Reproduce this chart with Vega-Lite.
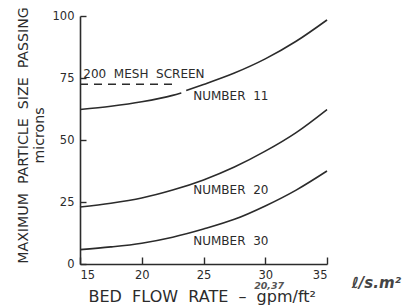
{
  "$schema": "https://vega.github.io/schema/vega-lite/v6.json",
  "width": 247,
  "height": 248,
  "autosize": {"type": "none"},
  "padding": {"left": 80, "top": 16, "right": 77, "bottom": 42},
  "background": "white",
  "config": {
    "view": {"stroke": null},
    "font": "DejaVu Sans",
    "axis": {
      "domainColor": "#2b2b2b",
      "domainWidth": 1.6,
      "tickColor": "#2b2b2b",
      "tickWidth": 1.4,
      "labelColor": "#2b2b2b",
      "titleColor": "#2b2b2b",
      "labelFont": "DejaVu Sans",
      "titleFont": "DejaVu Sans",
      "titleFontWeight": "normal",
      "grid": false
    }
  },
  "datasets": {
    "curves": [
      {"seg": "11a", "x": 15, "y": 62.3},
      {"seg": "11a", "x": 17.5, "y": 63.6},
      {"seg": "11a", "x": 20, "y": 65.4},
      {"seg": "11a", "x": 22.5, "y": 68.0},
      {"seg": "11a", "x": 23.2, "y": 69.0},
      {"seg": "11b", "x": 23.6, "y": 70.0},
      {"seg": "11b", "x": 25, "y": 72.4},
      {"seg": "11b", "x": 27.5, "y": 77.0},
      {"seg": "11b", "x": 30, "y": 82.7},
      {"seg": "11b", "x": 32.5, "y": 89.8},
      {"seg": "11b", "x": 35, "y": 98.4},
      {"seg": "20", "x": 15, "y": 23.0},
      {"seg": "20", "x": 17.5, "y": 24.5},
      {"seg": "20", "x": 20, "y": 26.6},
      {"seg": "20", "x": 22.5, "y": 29.8},
      {"seg": "20", "x": 25, "y": 33.9},
      {"seg": "20", "x": 27.5, "y": 39.1},
      {"seg": "20", "x": 30, "y": 45.5},
      {"seg": "20", "x": 32.5, "y": 53.0},
      {"seg": "20", "x": 35, "y": 62.3},
      {"seg": "30", "x": 15, "y": 5.8},
      {"seg": "30", "x": 17.5, "y": 6.9},
      {"seg": "30", "x": 20, "y": 8.4},
      {"seg": "30", "x": 22.5, "y": 10.8},
      {"seg": "30", "x": 25, "y": 14.1},
      {"seg": "30", "x": 27.5, "y": 18.0},
      {"seg": "30", "x": 30, "y": 23.4},
      {"seg": "30", "x": 32.5, "y": 29.8},
      {"seg": "30", "x": 35, "y": 37.5}
    ],
    "mesh": [
      {"x": 15, "y": 72.5},
      {"x": 22.8, "y": 72.5}
    ],
    "labels": [
      {"x": 15.27, "y": 74.8, "text": "200 \u00a0MESH \u00a0SCREEN"},
      {"x": 24.17, "y": 66.3, "text": "NUMBER \u00a011"},
      {"x": 24.17, "y": 28.1, "text": "NUMBER \u00a020"},
      {"x": 24.17, "y": 7.5, "text": "NUMBER \u00a030"}
    ],
    "notes": [
      {"x": 29.1, "y": -10.2, "text": "20,37"},
      {"x": 37.0, "y": -9.5, "text": "ℓ/s.m²"}
    ]
  },
  "layer": [
    {
      "data": {"name": "curves"},
      "mark": {"type": "line", "interpolate": "monotone", "color": "#2b2b2b", "strokeWidth": 1.6},
      "encoding": {
        "x": {
          "field": "x", "type": "quantitative",
          "scale": {"domain": [15, 35], "nice": false, "zero": false},
          "axis": {
            "values": [15, 20, 25, 30, 35],
            "tickSize": -7,
            "labelPadding": 12,
            "labelFontSize": 11.5,
            "title": "BED \u00a0FLOW \u00a0RATE \u00a0– \u00a0gpm/ft²",
            "titleFontSize": 16,
            "titleAnchor": "start",
            "titleAlign": "left",
            "titleBaseline": "alphabetic",
            "titleX": 8,
            "titleY": 37
          }
        },
        "y": {
          "field": "y", "type": "quantitative",
          "scale": {"domain": [0, 100], "nice": false},
          "axis": {
            "values": [0, 25, 50, 75, 100],
            "tickSize": -6,
            "labelPadding": 12,
            "labelFontSize": 11.5,
            "title": ["MAXIMUM \u00a0PARTICLE \u00a0SIZE \u00a0PASSING", "microns"],
            "titleFontSize": 14.2,
            "titleLineHeight": 16.5,
            "titleAngle": -90,
            "titleAlign": "center",
            "titleBaseline": "alphabetic",
            "titleX": -53,
            "titleY": 119
          }
        },
        "detail": {"field": "seg"}
      }
    },
    {
      "data": {"name": "mesh"},
      "mark": {"type": "line", "color": "#2b2b2b", "strokeWidth": 1.6, "strokeDash": [8, 6]},
      "encoding": {
        "x": {"field": "x", "type": "quantitative"},
        "y": {"field": "y", "type": "quantitative"}
      }
    },
    {
      "data": {"name": "labels"},
      "mark": {"type": "text", "align": "left", "baseline": "alphabetic", "fontSize": 12, "color": "#2b2b2b"},
      "encoding": {
        "x": {"field": "x", "type": "quantitative"},
        "y": {"field": "y", "type": "quantitative"},
        "text": {"field": "text"}
      }
    },
    {
      "data": {"name": "notes"},
      "transform": [{"filter": "datum.text === '20,37'"}],
      "mark": {"type": "text", "align": "left", "baseline": "alphabetic", "fontSize": 9.5, "fontStyle": "italic", "fontWeight": "bold", "color": "#555555"},
      "encoding": {
        "x": {"field": "x", "type": "quantitative"},
        "y": {"field": "y", "type": "quantitative"},
        "text": {"field": "text"}
      }
    },
    {
      "data": {"name": "notes"},
      "transform": [{"filter": "datum.text !== '20,37'"}],
      "mark": {"type": "text", "align": "left", "baseline": "alphabetic", "fontSize": 15, "fontStyle": "italic", "fontWeight": "bold", "color": "#444444"},
      "encoding": {
        "x": {"field": "x", "type": "quantitative"},
        "y": {"field": "y", "type": "quantitative"},
        "text": {"field": "text"}
      }
    }
  ]
}
